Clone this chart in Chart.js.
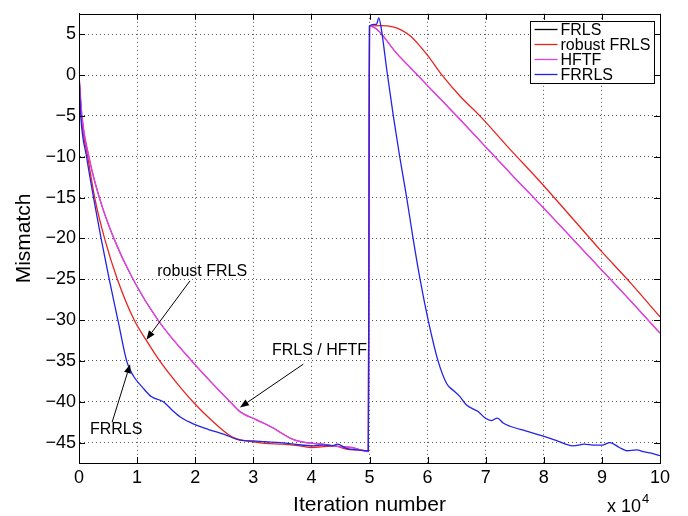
<!DOCTYPE html>
<html>
<head>
<meta charset="utf-8">
<script src="https://cdn.jsdelivr.net/npm/chart.js@4.4.0/dist/chart.umd.min.js"></script>
<style>
  html, body { margin: 0; padding: 0; background: #fff; }
  canvas { display: block; }
</style>
</head>
<body>
<canvas id="chart" width="688" height="516"></canvas>
<script>
// axis ticks (x is in units of 10^4 iterations)
const xTicks = [0, 1, 2, 3, 4, 5, 6, 7, 8, 9, 10];
const yTicks = [5, 0, -5, -10, -15, -20, -25, -30, -35, -40, -45];

// HFTF (FRLS lies on top of it in the figure)
const hftfX = [0, 0.05, 0.17, 0.35, 0.6, 0.93, 1.36, 1.94, 2.6, 2.77, 3.05, 3.34, 3.5, 3.68, 3.9, 4.2, 4.5, 4.7, 4.85, 4.98,
               5.0, 5.5, 6.0, 6.5, 7.0, 7.5, 8.0, 8.5, 9.0, 9.5, 10];
const hftfY = [0, -5, -10, -15, -20, -25, -30, -35, -40, -41.2, -42.2, -43.2, -43.9, -44.6, -45.0, -45.2, -45.5, -45.6, -45.9, -46.1,
               6.0, 2.4, -1.3, -5.0, -8.8, -12.6, -16.3, -20.1, -23.9, -27.7, -31.6];
const frlsX = hftfX.slice();
const frlsY = hftfY.slice();

// robust FRLS
const robustX = [0, 0.04, 0.15, 0.27, 0.44, 0.66, 0.95, 1.17, 1.39, 1.67, 1.96, 2.3, 2.63, 2.8, 3.0, 3.2, 3.5, 3.8, 4.0, 4.2, 4.4, 4.6, 4.8, 4.98,
                 5.0, 5.2, 5.4, 5.55, 5.7, 5.85, 6.0, 6.27, 6.56, 6.9, 7.42, 7.93, 8.45, 8.97, 9.5, 10];
const robustY = [0, -5, -10, -15, -20, -25, -30, -32.6, -35, -37.6, -40, -42.4, -44.3, -44.7, -44.9, -45.1, -45.2, -45.4, -45.6, -45.5, -45.4, -45.8, -45.9, -46.0,
                 6.0, 6.05, 5.9, 5.5, 4.8, 3.7, 2.4, -0.2, -2.6, -5.0, -9.1, -13.0, -17.2, -21.4, -25.5, -29.6];

// FRRLS
const frrlsX = [0, 0.03, 0.13, 0.25, 0.38, 0.52, 0.67, 0.82, 0.88, 0.95, 1.1, 1.25, 1.45, 1.6, 1.77, 2.0, 2.23, 2.5, 2.77, 3.0, 3.2, 3.46, 3.7, 4.03, 4.2, 4.35, 4.45, 4.6, 4.8, 4.98,
                5.0, 5.08, 5.12, 5.16, 5.2, 5.3, 5.41, 5.52, 5.64, 5.75, 5.87, 6.01, 6.18, 6.33, 6.44, 6.56, 6.67, 6.87, 6.99, 7.1, 7.2, 7.3, 7.42, 7.7, 7.99, 8.2, 8.5, 8.7, 8.85, 9.0, 9.14, 9.3, 9.43, 9.6, 9.71, 9.85, 10];
const frrlsY = [0, -5, -10, -15, -20, -25, -30, -35, -36.1, -37, -38.3, -39.4, -40.0, -41.0, -42.0, -42.8, -43.4, -44.0, -44.7, -44.8, -44.9, -45.0, -45.2, -45.4, -45.3, -45.4, -45.2, -45.7, -45.9, -46.0,
                6.0, 6.2, 6.2, 7.0, 5.8, 0.5, -5, -10, -15, -20, -25, -30, -35, -37.8, -38.6, -39.4, -40.4, -41.2, -42.0, -42.3, -42.0, -42.6, -43.0, -43.6, -44.2, -44.7, -45.4, -45.2, -45.3, -45.3, -45.0, -45.6, -46.0, -45.9, -46.1, -46.3, -46.6];

// text callouts: label, text position, arrow tail, arrow head (data units)
const notes = [
  { text: 'robust FRLS', at: [2.12, -24.1], from: [1.91, -25.2], to: [1.16, -32.4] },
  { text: 'FRLS / HFTF', at: [4.14, -33.7], from: [3.86, -35.4], to: [2.77, -40.7] },
  { text: 'FRRLS',       at: [0.64, -43.4], from: [0.57, -42.5], to: [0.88, -35.4] }
];

const FONT = "'Liberation Sans', Arial, Helvetica, sans-serif";

function toPts(xs, ys) {
  return xs.map((x, i) => ({ x: x, y: ys[i] }));
}

function minus(v) {
  return v < 0 ? '\u2212' + Math.abs(v) : String(v);
}

const framePlugin = {
  id: 'frame',
  afterDraw(chart) {
    const ctx = chart.ctx;
    const a = chart.chartArea;
    const xs = chart.scales.x, ys = chart.scales.y;
    ctx.save();
    ctx.strokeStyle = '#000';
    ctx.lineWidth = 1;
    ctx.strokeRect(Math.round(a.left) + 0.5, Math.round(a.top) + 0.5,
      Math.round(a.right - a.left), Math.round(a.bottom - a.top));
    ctx.beginPath();
    xTicks.forEach(v => {
      const p = Math.round(xs.getPixelForValue(v)) + 0.5;
      ctx.moveTo(p, a.bottom); ctx.lineTo(p, a.bottom - 6);
      ctx.moveTo(p, a.top); ctx.lineTo(p, a.top + 6);
    });
    yTicks.forEach(v => {
      const p = Math.round(ys.getPixelForValue(v)) + 0.5;
      ctx.moveTo(a.left, p); ctx.lineTo(a.left + 6, p);
      ctx.moveTo(a.right, p); ctx.lineTo(a.right - 6, p);
    });
    ctx.stroke();

    // x 10^4 multiplier
    ctx.fillStyle = '#000';
    ctx.textBaseline = 'alphabetic';
    ctx.textAlign = 'left';
    ctx.font = '18px ' + FONT;
    ctx.fillText('x 10', 607, 512);
    const w = ctx.measureText('x 10').width;
    ctx.font = '13px ' + FONT;
    ctx.fillText('4', 607 + w + 1, 503);
    ctx.restore();
  }
};

const notesPlugin = {
  id: 'notes',
  afterDatasetsDraw(chart) {
    const ctx = chart.ctx;
    const xs = chart.scales.x, ys = chart.scales.y;
    ctx.save();
    ctx.strokeStyle = '#000';
    ctx.fillStyle = '#000';
    ctx.lineWidth = 1;
    ctx.font = '16px ' + FONT;
    ctx.textAlign = 'center';
    ctx.textBaseline = 'middle';
    notes.forEach(n => {
      const x0 = xs.getPixelForValue(n.from[0]), y0 = ys.getPixelForValue(n.from[1]);
      const x1 = xs.getPixelForValue(n.to[0]), y1 = ys.getPixelForValue(n.to[1]);
      const ang = Math.atan2(y1 - y0, x1 - x0);
      const hl = 9, hw = 3.5;
      const bx = x1 - hl * Math.cos(ang), by = y1 - hl * Math.sin(ang);
      ctx.beginPath();
      ctx.moveTo(x0, y0); ctx.lineTo(bx, by);
      ctx.stroke();
      ctx.beginPath();
      ctx.moveTo(x1, y1);
      ctx.lineTo(bx + hw * Math.sin(ang), by - hw * Math.cos(ang));
      ctx.lineTo(bx - hw * Math.sin(ang), by + hw * Math.cos(ang));
      ctx.closePath();
      ctx.fill();
      ctx.fillText(n.text, xs.getPixelForValue(n.at[0]), ys.getPixelForValue(n.at[1]));
    });
    ctx.restore();
  }
};

const legendPlugin = {
  id: 'boxLegend',
  afterDraw(chart) {
    const ctx = chart.ctx;
    const a = chart.chartArea;
    const bx = Math.round(a.right) - 130 + 0.5, by = Math.round(a.top) + 7 + 0.5;
    const bw = 124, bh = 62;
    ctx.save();
    ctx.fillStyle = '#fff';
    ctx.fillRect(bx, by, bw, bh);
    ctx.strokeStyle = '#000';
    ctx.lineWidth = 1;
    ctx.strokeRect(bx, by, bw, bh);
    ctx.font = '16px ' + FONT;
    ctx.textBaseline = 'middle';
    ctx.textAlign = 'left';
    chart.data.datasets.forEach((ds, i) => {
      const cy = by + 8 + i * 15;
      ctx.strokeStyle = ds.borderColor;
      ctx.lineWidth = 1.3;
      ctx.beginPath();
      ctx.moveTo(bx + 4, cy); ctx.lineTo(bx + 27, cy);
      ctx.stroke();
      ctx.fillStyle = '#000';
      ctx.fillText(ds.label, bx + 30, cy + 1);
    });
    ctx.restore();
  }
};

const colors = ['#000000', '#e8231f', '#e040e0', '#2323e6'];
const widths = [0.8, 1.3, 1.5, 1.3];
const seriesData = [toPts(frlsX, frlsY), toPts(robustX, robustY), toPts(hftfX, hftfY), toPts(frrlsX, frrlsY)];
const seriesNames = ['FRLS', 'robust FRLS', 'HFTF', 'FRRLS'];
const drawOrder = [4, 3, 2, 1];

new Chart(document.getElementById('chart'), {
  type: 'line',
  data: {
    datasets: seriesNames.map((name, i) => ({
      label: name,
      data: seriesData[i],
      borderColor: colors[i],
      backgroundColor: colors[i],
      borderWidth: widths[i],
      pointRadius: 0,
      cubicInterpolationMode: 'monotone',
      fill: false,
      order: drawOrder[i]
    }))
  },
  options: {
    responsive: false,
    animation: false,
    devicePixelRatio: 1,
    layout: { padding: { top: 5, right: 28, bottom: 0, left: 0 } },
    plugins: {
      legend: { display: false },
      tooltip: { enabled: false }
    },
    scales: {
      x: {
        type: 'linear',
        min: 0,
        max: 10,
        afterBuildTicks: s => { s.ticks = xTicks.map(v => ({ value: v })); },
        afterFit: s => { s.height = 53; },
        ticks: { color: '#000', font: { family: FONT, size: 18 }, padding: 4, callback: v => String(v) },
        grid: { color: '#555', lineWidth: 1, drawTicks: false },
        border: { display: true, color: '#000', dash: [1, 3] },
        title: { display: true, text: 'Iteration number', color: '#000',
                 font: { family: FONT, size: 21, lineHeight: 1 }, padding: { top: 0, bottom: 0 } }
      },
      y: {
        type: 'linear',
        min: -47.5,
        max: 7.5,
        afterBuildTicks: s => { s.ticks = yTicks.map(v => ({ value: v })); },
        afterFit: s => { s.width = 79; },
        ticks: { color: '#000', font: { family: FONT, size: 18 }, padding: 3, callback: v => minus(v) },
        grid: { color: '#555', lineWidth: 1, drawTicks: false },
        border: { display: true, color: '#000', dash: [1, 3] },
        title: { display: true, text: 'Mismatch', color: '#000',
                 font: { family: FONT, size: 21, lineHeight: 1.2 }, padding: { top: 12, bottom: 0 } }
      }
    }
  },
  plugins: [notesPlugin, framePlugin, legendPlugin]
});
</script>
</body>
</html>
